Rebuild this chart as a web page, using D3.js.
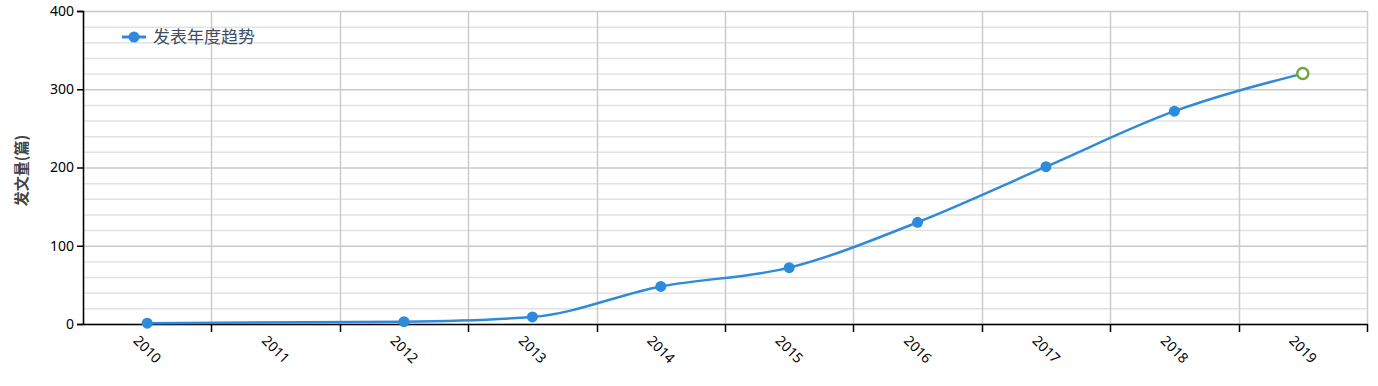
<!DOCTYPE html>
<html>
<head>
<meta charset="utf-8">
<script src="https://d3js.org/d3.v7.min.js"></script>
<style>
  body { margin: 0; background: #fff; font-family: "Noto Sans CJK SC", "Noto Sans", sans-serif; }
</style>
</head>
<body>
<script>
    var years = ['2010', '2011', '2012', '2013', '2014', '2015', '2016', '2017', '2018', '2019'];
    var counts = [1, null, 3, 9, 48, 72, 130, 201, 272, 320];
    var yTicks = [0, 100, 200, 300, 400];
    var seriesName = '发表年度趋势';
    var yTitle = '发文量(篇)';

    var w = 1378, h = 386;
    var m = {top: 11, right: 11, bottom: 62, left: 83};
    var iw = w - m.left - m.right, ih = h - m.top - m.bottom;

    var data = years.map(function(y, i){ return {year: y, value: counts[i]} });

    var x = d3.scaleBand().domain(years).range([0, iw]);
    var y = d3.scaleLinear().domain([0, 400]).range([ih, 0]);

    var svg = d3.select('body').append('svg').attr('width', w).attr('height', h);
    var g = svg.append('g').attr('transform', 'translate(' + m.left + ',' + m.top + ')');

    // minor grid every 20
    g.append('g').selectAll('line')
        .data(d3.range(0, 401, 20))
        .join('line')
        .attr('x1', 0).attr('x2', iw)
        .attr('y1', function(d){ return y(d) + 0.5 })
        .attr('y2', function(d){ return y(d) + 0.5 })
        .attr('stroke', function(d){ return d % 100 === 0 ? '#c8c8c8' : '#e2e2e2' })
        .attr('stroke-width', 1.5);

    // vertical grid at band edges
    var edges = years.map(function(d){ return x(d) }).concat([iw]);
    g.append('g').selectAll('line')
        .data(edges)
        .join('line')
        .attr('x1', function(d){ return Math.round(d) + 0.5 })
        .attr('x2', function(d){ return Math.round(d) + 0.5 })
        .attr('y1', 0).attr('y2', ih)
        .attr('stroke', '#cccccc')
        .attr('stroke-width', 1.5);

    // y axis
    var yAxis = g.append('g')
        .call(d3.axisLeft(y).tickValues(yTicks).tickSize(6).tickPadding(3));
    yAxis.select('.domain').attr('stroke', '#000').attr('stroke-width', 1.5);
    yAxis.selectAll('.tick line').attr('stroke', '#000').attr('stroke-width', 1.5);
    yAxis.selectAll('text').attr('font-size', 14).attr('fill', '#000')
        .attr('font-family', '"Noto Sans", sans-serif');

    // x axis
    var xAxis = g.append('g').attr('transform', 'translate(0,' + ih + ')')
        .call(d3.axisBottom(x).tickSize(0).tickSizeOuter(0));
    xAxis.select('.domain').attr('stroke', '#000').attr('stroke-width', 1.5);
    xAxis.selectAll('.tick text')
        .attr('font-size', 14).attr('fill', '#000')
        .attr('font-family', '"Noto Sans", sans-serif')
        .attr('text-anchor', 'start')
        .attr('transform', 'translate(-9,12) rotate(45)')
        .attr('dy', '0.35em');
    xAxis.append('g').selectAll('line')
        .data(edges.slice(1))
        .join('line')
        .attr('x1', function(d){ return Math.round(d) + 0.5 })
        .attr('x2', function(d){ return Math.round(d) + 0.5 })
        .attr('y1', 0).attr('y2', 8)
        .attr('stroke', '#000').attr('stroke-width', 1.5);

    // line
    var defined = data.filter(function(d){ return d.value !== null });
    var line = d3.line()
        .x(function(d){ return x(d.year) + x.bandwidth() / 2 })
        .y(function(d){ return y(d.value) })
        .curve(d3.curveMonotoneX);
    g.append('path')
        .attr('d', line(defined))
        .attr('fill', 'none')
        .attr('stroke', '#2e8bdb')
        .attr('stroke-width', 2.5);

    var last = defined[defined.length - 1];
    g.append('g').selectAll('circle')
        .data(defined)
        .join('circle')
        .attr('cx', function(d){ return x(d.year) + x.bandwidth() / 2 })
        .attr('cy', function(d){ return y(d.value) })
        .attr('r', function(d){ return d === last ? 5.5 : 5.5 })
        .attr('fill', function(d){ return d === last ? '#fff' : '#2e8bdb' })
        .attr('stroke', function(d){ return d === last ? '#6aaa3a' : 'none' })
        .attr('stroke-width', 2.5);

    // legend
    var lg = svg.append('g').attr('transform', 'translate(122,37)');
    lg.append('line').attr('x1', 0).attr('x2', 24).attr('stroke', '#2e8bdb').attr('stroke-width', 3);
    lg.append('circle').attr('cx', 12).attr('r', 5.5).attr('fill', '#2e8bdb');
    lg.append('text').attr('x', 31).attr('dy', '0.35em')
        .attr('font-size', 17).attr('fill', '#3e4e5e')
        .text(seriesName);

    // y title
    svg.append('text')
        .attr('transform', 'translate(22,' + (m.top + ih / 2 + 3) + ') rotate(-90)')
        .attr('text-anchor', 'middle')
        .attr('dy', '0.35em')
        .attr('font-size', 15).attr('font-weight', 'bold').attr('fill', '#444')
        .text(yTitle);
</script>
</body>
</html>
